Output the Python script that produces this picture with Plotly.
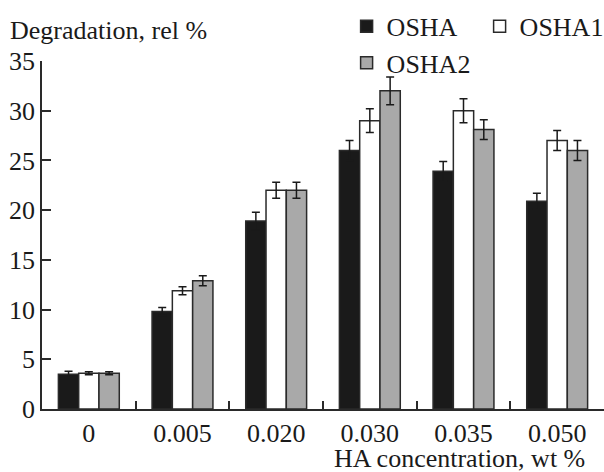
import plotly.graph_objects as go

categories = ["0", "0.005", "0.020", "0.030", "0.035", "0.050"]
osha = [3.5, 9.8, 18.9, 26.0, 23.9, 20.9]
osha_err = [0.3, 0.4, 0.9, 1.0, 1.0, 0.8]
osha1 = [3.6, 11.9, 22.0, 29.0, 30.0, 27.0]
osha1_err = [0.15, 0.4, 0.8, 1.2, 1.2, 1.0]
osha2 = [3.6, 12.9, 22.0, 32.0, 28.1, 26.0]
osha2_err = [0.15, 0.5, 0.8, 1.4, 1.0, 1.0]

FONT = "Liberation Serif, Times New Roman, serif"
TXT = "#1a1a1a"
LINE = "#2a2a2a"
FS = 26

fig = go.Figure()
series = [
    ("OSHA", osha, osha_err, "#1a1a1a", "legend"),
    ("OSHA1", osha1, osha1_err, "#ffffff", "legend"),
    ("OSHA2", osha2, osha2_err, "#a9a9a9", "legend2"),
]
for name, vals, errs, color, lg in series:
    fig.add_trace(go.Bar(
        x=categories, y=vals, name=name, legend=lg,
        marker=dict(color=color, line=dict(color=LINE, width=1.5)),
        error_y=dict(type="data", array=errs, color="#1a1a1a", thickness=1.5, width=4),
    ))

fig.update_layout(
    width=604, height=472,
    margin=dict(l=42, r=0, t=61, b=63, autoexpand=False),
    paper_bgcolor="white", plot_bgcolor="white",
    font=dict(family=FONT, size=FS, color=TXT),
    barmode="group", bargap=0.35, bargroupgap=0,
    showlegend=True,
    legend=dict(orientation="h", x=0.542, y=1.167, xanchor="left", yanchor="top",
                entrywidth=88, font=dict(family=FONT, size=FS, color=TXT),
                bgcolor="rgba(0,0,0,0)"),
    legend2=dict(orientation="h", x=0.542, y=1.062, xanchor="left", yanchor="top",
                 font=dict(family=FONT, size=FS, color=TXT), bgcolor="rgba(0,0,0,0)"),
    xaxis=dict(type="category", tickson="boundaries", ticks="inside", ticklen=8,
               tickwidth=1.5, tickcolor=LINE, showline=True, linecolor=LINE, linewidth=1.5,
               showgrid=False, zeroline=False, range=[-0.5, 5.5],
               tickfont=dict(family=FONT, size=FS, color=TXT)),
    yaxis=dict(range=[0, 35], tickvals=[0, 5, 10, 15, 20, 25, 30, 35], ticks="inside",
               ticklen=9, tickwidth=1.5, tickcolor=LINE, showline=True, linecolor=LINE,
               linewidth=1.5, showgrid=False, zeroline=False,
               tickfont=dict(family=FONT, size=FS, color=TXT)),
    annotations=[
        dict(text="Degradation, rel %", xref="paper", yref="paper", x=-0.06, y=1.089,
             xanchor="left", yanchor="middle", showarrow=False,
             font=dict(family=FONT, size=FS, color=TXT)),
        dict(text="HA concentration, wt %", xref="paper", yref="paper", x=0.970, y=-0.141,
             xanchor="right", yanchor="middle", showarrow=False,
             font=dict(family=FONT, size=FS, color=TXT)),
    ],
)

fig.write_html("out.html", config={"displayModeBar": False},
               post_script="document.body.style.margin='0';")
